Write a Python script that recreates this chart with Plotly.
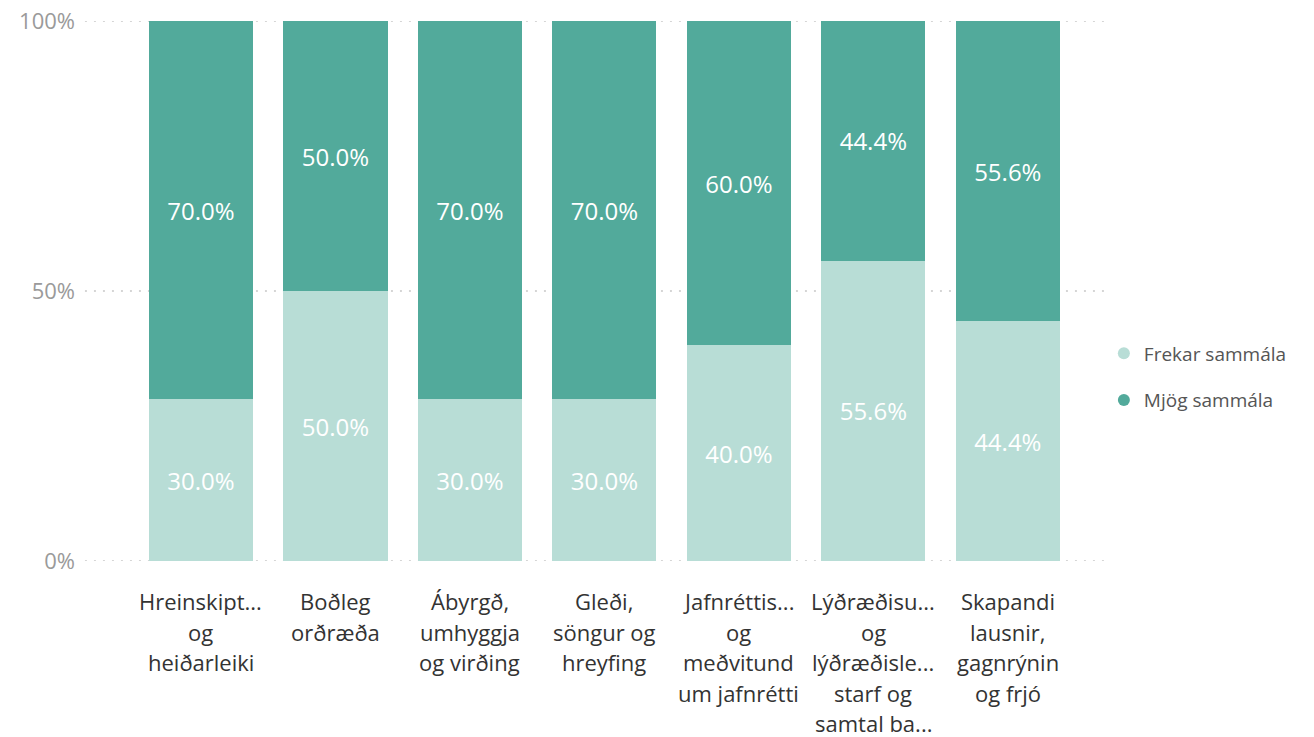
import plotly.graph_objects as go

categories = [
    "Hreinskipt... og heiðarleiki",
    "Boðleg orðræða",
    "Ábyrgð, umhyggja og virðing",
    "Gleði, söngur og hreyfing",
    "Jafnréttis... og meðvitund um jafnrétti",
    "Lýðræðisu... og lýðræðisle... starf og samtal ba...",
    "Skapandi lausnir, gagnrýnin og frjó",
]
tick_lines = [
    ["Hreinskipt...", "og", "heiðarleiki"],
    ["Boðleg", "orðræða"],
    ["Ábyrgð,", "umhyggja", "og virðing"],
    ["Gleði,", "söngur og", "hreyfing"],
    ["Jafnréttis...", "og", "meðvitund", "um jafnrétti"],
    ["Lýðræðisu...", "og", "lýðræðisle...", "starf og", "samtal ba..."],
    ["Skapandi", "lausnir,", "gagnrýnin", "og frjó"],
]
frekar = [30.0, 50.0, 30.0, 30.0, 40.0, 55.6, 44.4]
mjog = [70.0, 50.0, 70.0, 70.0, 60.0, 44.4, 55.6]
series_names = ["Frekar sammála", "Mjög sammála"]
y_ticks = [0, 50, 100]
y_ticklabels = ["0%", "50%", "100%"]

LIGHT = "#b8ddd6"
DARK = "#52aa9b"
FONT = "Open Sans"

fig = go.Figure()

# dotted gridlines (drawn as shapes so the edge lines at 0% and 100% show)
for v in y_ticks:
    fig.add_shape(
        type="line", xref="paper", x0=-0.003, x1=1.0, yref="y", y0=v, y1=v,
        line=dict(color="#c8c8c8", width=1.5, dash="2px,7px"), layer="below",
    )

for name, vals, col in [(series_names[0], frekar, LIGHT), (series_names[1], mjog, DARK)]:
    fig.add_trace(go.Bar(
        x=categories, y=vals, name=name, marker=dict(color=col, line=dict(width=0)),
        width=0.775, texttemplate="%{y:.1f}%", textposition="inside",
        insidetextanchor="middle", textangle=0,
        textfont=dict(color="white", size=24, family=FONT),
        showlegend=False, hoverinfo="skip", cliponaxis=False,
    ))

# legend entries with circle markers
for i, (name, col) in enumerate([(series_names[0], LIGHT), (series_names[1], DARK)]):
    fig.add_trace(go.Scatter(
        x=[None], y=[None], mode="markers", name=name, legendgroup=f"g{i}",
        marker=dict(color=col, size=17, symbol="circle"), showlegend=True,
    ))

# x tick labels as per-line annotations for wider line spacing
for cat, lines in zip(categories, tick_lines):
    for j, line in enumerate(lines):
        fig.add_annotation(
            x=cat, xref="x", y=0, yref="paper", yanchor="middle",
            yshift=-(40 + 30.5 * j), text=line, showarrow=False,
            font=dict(family=FONT, size=22, color="#333333"),
        )

fig.update_layout(
    barmode="stack",
    width=1298, height=729,
    margin=dict(l=80, r=196, t=13, b=176, autoexpand=False),
    paper_bgcolor="white", plot_bgcolor="rgba(0,0,0,0)",
    font=dict(family=FONT),
    legend=dict(
        x=0.994, xanchor="left", y=0.341, yanchor="middle",
        font=dict(size=19, color="#555555", family=FONT),
        traceorder="grouped", tracegroupgap=19, itemsizing="constant",
        itemwidth=30, bgcolor="rgba(0,0,0,0)",
    ),
    xaxis=dict(
        type="category", range=[-0.84, 6.76], showticklabels=False,
        showgrid=False, zeroline=False, showline=False, ticks="",
        automargin=False,
    ),
    yaxis=dict(
        range=[0, 100], tickvals=y_ticks, ticktext=y_ticklabels,
        showgrid=False, zeroline=False, showline=False, ticks="",
        tickfont=dict(size=22, color="#9a9a9a", family=FONT),
        ticklabelstandoff=12, ticklabeloverflow="allow", automargin=False,
    ),
)

fig.write_html("out.html")
